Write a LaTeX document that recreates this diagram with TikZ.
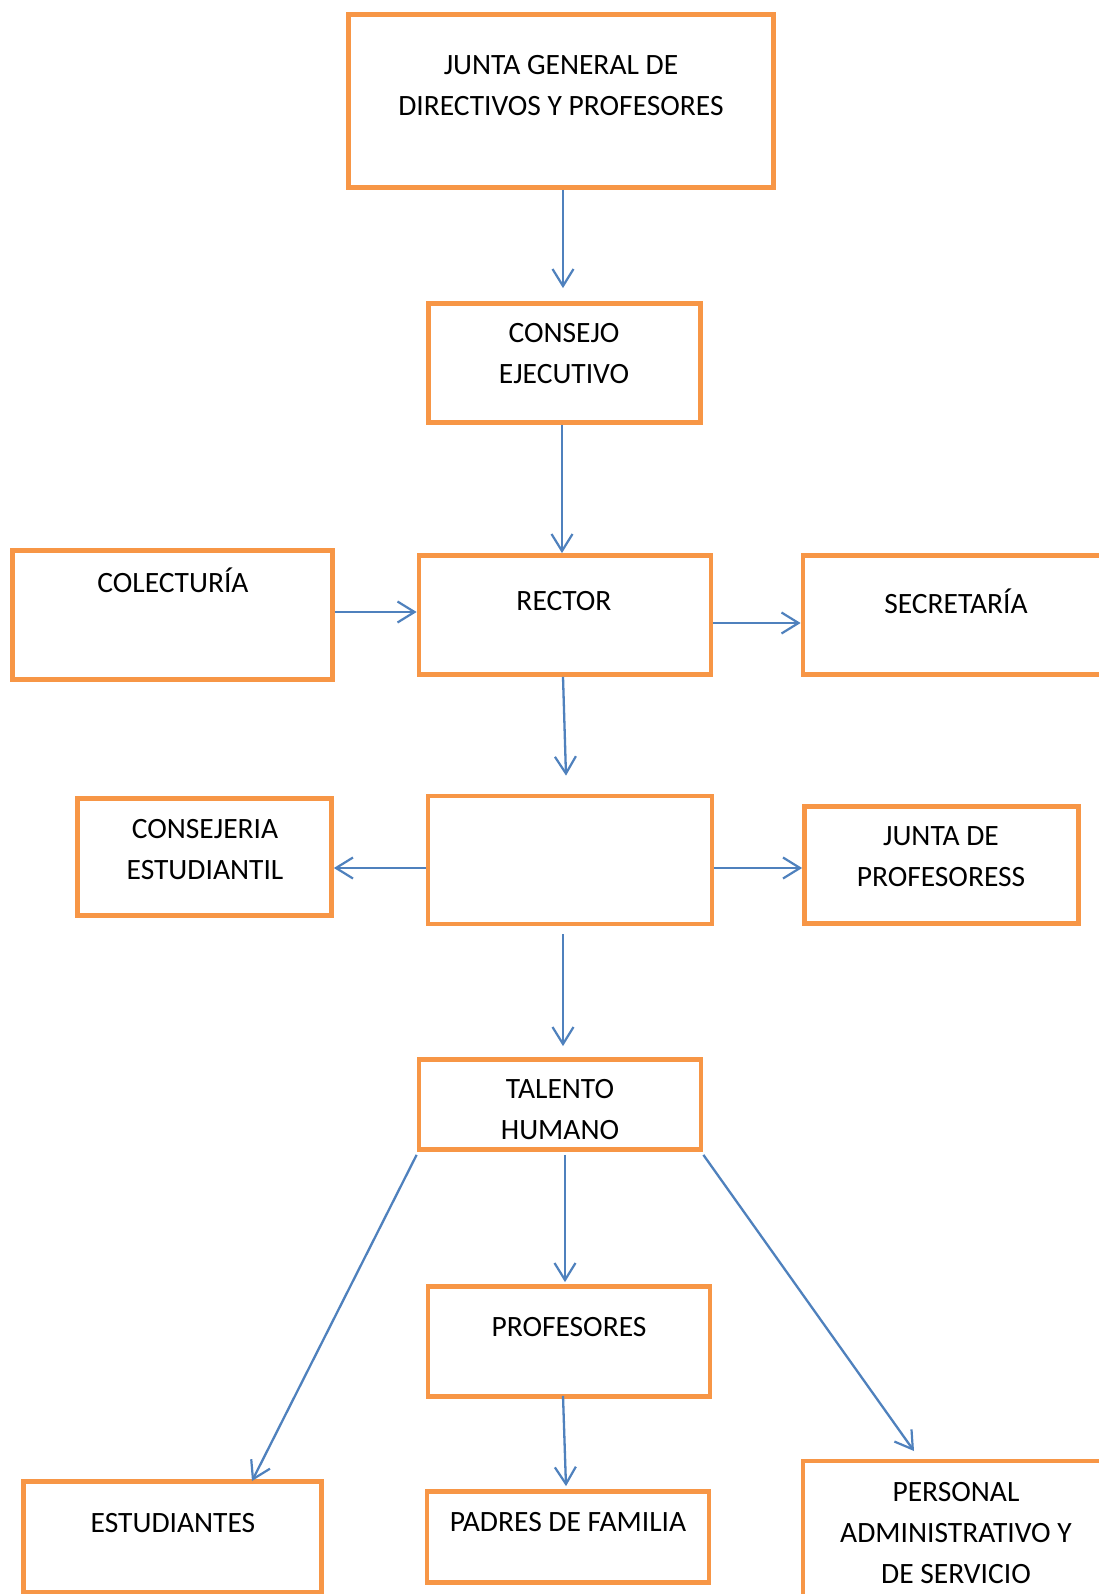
\documentclass[tikz,border=0pt]{standalone}
\usepackage{fontspec}
\setmainfont{Carlito}
\usetikzlibrary{arrows.meta}
\definecolor{boxorange}{HTML}{F79646}
\definecolor{arrowblue}{HTML}{4F81BD}
\begin{document}
\begin{tikzpicture}[x=1pt,y=-1pt,
  orgbox/.style={draw=boxorange, line width=4.8pt, fill=white, inner sep=0pt, rectangle},
  txt/.style={font=\fontsize{29.5}{41}\selectfont, align=center, inner sep=0pt, text=black},
  arr/.style={draw=arrowblue, line width=2.3pt, -{Straight Barb[length=17pt,width=21pt,line width=2.2pt]}}]
\useasboundingbox (0,0) rectangle (1099,1594);
\clip (0,0) rectangle (1099,1594);
\fill[white] (0,0) rectangle (1099,1594);
% boxes
\node[orgbox, minimum width=425pt, minimum height=173pt] (junta) at (561,101) {};
\node[orgbox, minimum width=272pt, minimum height=119pt] (consejo) at (564.5,363) {};
\node[orgbox, minimum width=320pt, minimum height=129pt] (colect) at (172.5,615) {};
\node[orgbox, minimum width=292pt, minimum height=119pt] (rector) at (565,615) {};
\node[orgbox, minimum width=307pt, minimum height=119pt] (secre) at (956.5,615) {};
\node[orgbox, minimum width=284pt, minimum height=128pt] (mid) at (570,860) {};
\node[orgbox, minimum width=254pt, minimum height=117pt] (consej) at (204.5,857) {};
\node[orgbox, minimum width=274pt, minimum height=117pt] (juntap) at (941.5,865) {};
\node[orgbox, minimum width=282pt, minimum height=90pt] (talento) at (560,1104.5) {};
\node[orgbox, minimum width=282pt, minimum height=110pt] (profes) at (569,1341.5) {};
\node[orgbox, minimum width=282pt, minimum height=91pt] (padres) at (568,1537) {};
\node[orgbox, minimum width=298pt, minimum height=111pt] (estud) at (172.5,1537) {};
\node[orgbox, minimum width=307pt, minimum height=159pt] (personal) at (956.5,1540.5) {};
% texts
\node[txt] (tjunta) at (561,86) {JUNTA GENERAL DE\\DIRECTIVOS Y PROFESORES};
\node[txt] (tconsejo) at (564,354) {CONSEJO\\EJECUTIVO};
\node[txt] (tcolect) at (173,580) {COLECTURÍA};
\node[txt] (trector) at (564,601) {RECTOR};
\node[txt] (tsecre) at (956,601) {SECRETARÍA};
\node[txt] (tconsej) at (205,850) {CONSEJERIA\\ESTUDIANTIL};
\node[txt] (tjuntap) at (941,857) {JUNTA DE\\PROFESORESS};
\node[txt] (ttalento) at (560,1110) {TALENTO\\HUMANO};
\node[txt] (tprofes) at (569,1327) {PROFESORES};
\node[txt] (tpadres) at (568,1522) {PADRES DE FAMILIA};
\node[txt] (testud) at (173,1523) {ESTUDIANTES};
\node[txt] (tpersonal) at (956,1533) {PERSONAL\\ADMINISTRATIVO Y\\DE SERVICIO};
% free arrow ends
\coordinate (eEstud) at (252,1481);
\coordinate (ePers) at (914,1451);
% connectors
\draw[arr] ([xshift=2pt]junta.south) -- ([xshift=-1.5pt,yshift=13pt]consejo.north);
\draw[arr] ([xshift=-2.5pt]consejo.south) -- ([xshift=-3pt]rector.north);
\draw[arr] ([yshift=3pt]colect.east) -- ([yshift=3pt]rector.west);
\draw[arr] ([yshift=-8pt]rector.east) -- ([yshift=-8pt]secre.west);
\draw[arr] ([xshift=-2pt]rector.south) -- ([xshift=-4pt,yshift=18pt]mid.north);
\draw[arr] ([yshift=-8pt]mid.west) -- ([yshift=-11pt]consej.east);
\draw[arr] ([yshift=-8pt]mid.east) -- ([yshift=-3pt]juntap.west);
\draw[arr] ([xshift=-7pt,yshift=-8pt]mid.south) -- ([xshift=3pt,yshift=11pt]talento.north);
\draw[arr] ([xshift=5pt,yshift=-3pt]talento.south) -- ([xshift=-4pt,yshift=2pt]profes.north);
\draw[arr] ([xshift=-6pt,yshift=3pt]profes.south) -- ([xshift=-2pt,yshift=3pt]padres.north);
\draw[arr] ([yshift=-3pt]talento.south west) -- (eEstud);
\draw[arr] ([yshift=-3pt]talento.south east) -- (ePers);
\end{tikzpicture}
\end{document}
